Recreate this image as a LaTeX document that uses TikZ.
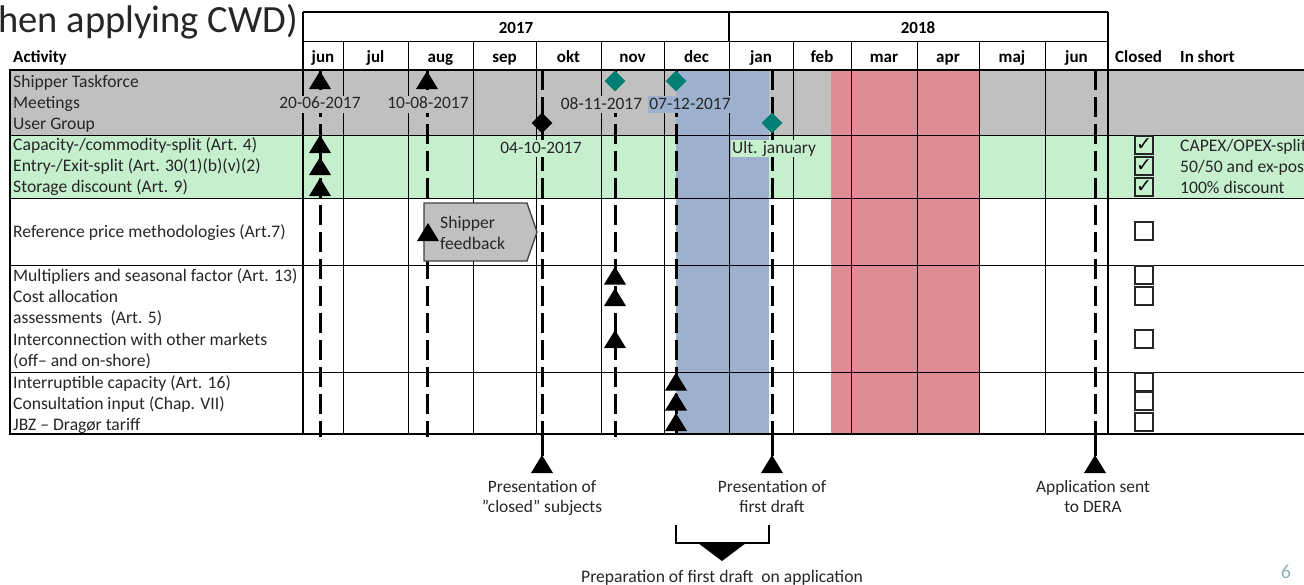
\documentclass[tikz,border=0pt]{standalone}
\usepackage{fontspec}
\setmainfont{Carlito}
\newfontfamily\dejavu{DejaVu Sans}
\usetikzlibrary{shapes.geometric}
\definecolor{rowgray}{HTML}{C0C0C0}
\definecolor{rowgreen}{HTML}{C6EFCE}
\definecolor{prepblue}{HTML}{9DB0CE}
\definecolor{holdpink}{HTML}{DE8C96}
\definecolor{tealmark}{HTML}{007F72}
\definecolor{bodytext}{HTML}{262626}
\definecolor{pagenum}{HTML}{8CB4B4}
\definecolor{boxedge}{HTML}{404040}
\begin{document}
\begin{tikzpicture}[x=1pt,y=-1pt,
  body/.style={font=\fontsize{17.6}{21}\selectfont, text=bodytext, inner sep=0pt, anchor=base west},
  hdr/.style={font=\fontsize{17}{21}\selectfont\bfseries, text=black, inner sep=0pt, anchor=base},
  datelbl/.style={font=\fontsize{17.4}{21}\selectfont, text=bodytext, inner xsep=1pt, inner ysep=1pt, text height=12pt, text depth=3pt, anchor=base},
  note/.style={font=\fontsize{17.4}{20}\selectfont, text=bodytext, inner sep=0pt, align=center, anchor=north},
  gridline/.style={line width=1pt, black},
  gridheavy/.style={line width=2pt, black},
  timeline/.style={line width=3pt, black, dash pattern=on 20pt off 7pt},
  stem/.style={line width=3pt, black},
  mstone/.style={diamond, minimum width=21pt, minimum height=21pt, inner sep=0pt, fill=black},
  tstone/.style={mstone, fill=tealmark},
  cbox/.style={draw=black!85, line width=1.4pt, minimum size=18pt, inner sep=0pt, font=\dejavu\fontsize{19}{19}\selectfont},
  uptri/.pic={\fill[black] (-11,9) -- (11,9) -- (0,-9) -- cycle;},
]
\useasboundingbox (0,0) rectangle (1304,584);
\clip (0,0) rectangle (1304,584);

% title and page number
\node[font=\fontsize{38.5}{40}\selectfont, text=bodytext, inner sep=0pt, anchor=base east] (title) at (298,32) {hen applying CWD)};
\node[font=\fontsize{20}{20}\selectfont, text=pagenum, inner sep=0pt, anchor=base] (pg) at (1286,578) {6};

% row fills and highlight bands
\fill[rowgray] (10,70) rectangle (1304,135);
\fill[rowgreen] (10,135) rectangle (1304,198);
\fill[prepblue] (676,70) rectangle (769,434);
\fill[holdpink] (831,70) rectangle (979,434);

% grid
\foreach \yy in {135,198,265,372} \draw[gridline] (10,\yy) -- (1304,\yy);
\draw[gridheavy] (10,69.5) -- (1304,69.5);
\draw[gridheavy] (10,434) -- (1304,434);
\draw[line width=1.5pt] (10,69) -- (10,435);
\draw[line width=1.5pt] (303,12) -- (1108,12);
\draw[gridline] (303,41) -- (1108,41);
\foreach \xx in {343,408,473,536,601,664,793,851,917,979,1045} \draw[gridline] (\xx,41) -- (\xx,434);
\draw[gridline] (729,41) -- (729,434);
\draw[line width=1.5pt] (729,12) -- (729,41);
\draw[line width=1.5pt] (303,12) -- (303,434);
\draw[gridheavy] (1108,12) -- (1108,434);

% headers
\node[hdr] (y2017) at (516,33) {2017};
\node[hdr] (y2018) at (918,33) {2018};
\node[hdr, anchor=base west] (hact) at (13,62.5) {Activity};
\node[hdr] (m1) at (323,62.5) {jun};
\node[hdr] (m2) at (375.5,62.5) {jul};
\node[hdr] (m3) at (440.5,62.5) {aug};
\node[hdr] (m4) at (504.5,62.5) {sep};
\node[hdr] (m5) at (568.5,62.5) {okt};
\node[hdr] (m6) at (632.5,62.5) {nov};
\node[hdr] (m7) at (696.5,62.5) {dec};
\node[hdr] (m8) at (761,62.5) {jan};
\node[hdr] (m9) at (822,62.5) {feb};
\node[hdr] (m10) at (884,62.5) {mar};
\node[hdr] (m11) at (948,62.5) {apr};
\node[hdr] (m12) at (1012,62.5) {maj};
\node[hdr] (m13) at (1076.5,62.5) {jun};
\node[hdr, anchor=base west] (hclosed) at (1115,62.5) {Closed};
\node[hdr, anchor=base west] (hshort) at (1180,62.5) {In short};

% activity texts
\node[body] (a1) at (13,87) {Shipper Taskforce};
\node[body] (a2) at (13,108) {Meetings};
\node[body] (a3) at (13,129.5) {User Group};
\node[body] (a4) at (13,150) {Capacity-/commodity-split (Art. 4)};
\node[body] (a5) at (13,171) {Entry-/Exit-split (Art. 30(1)(b)(v)(2)};
\node[body] (a6) at (13,192) {Storage discount (Art. 9)};
\node[body] (a7) at (13,237) {Reference price methodologies (Art.7)};
\node[body] (a8) at (13,281) {Multipliers and seasonal factor (Art. 13)};
\node[body] (a9) at (13,302.5) {Cost allocation};
\node[body] (a10) at (13,323.5) {assessments~ (Art. 5)};
\node[body] (a11) at (13,345.5) {Interconnection with other markets};
\node[body] (a12) at (13,366.5) {(off– and on-shore)};
\node[body] (a13) at (13,388) {Interruptible capacity (Art. 16)};
\node[body] (a14) at (13,409) {Consultation input (Chap. VII)};
\node[body] (a15) at (13,430) {JBZ – Dragør tariff};

% in short
\node[body] (s1) at (1180,151) {CAPEX/OPEX-split};
\node[body] (s2) at (1180,172) {50/50 and ex-post};
\node[body] (s3) at (1180,193) {100\% discount};

% timelines
\coordinate (tjunT) at (320,70);   \coordinate (tjunB) at (320,437);
\coordinate (taugT) at (427,70);   \coordinate (taugB) at (427,437);
\coordinate (toktT) at (542,70);   \coordinate (toktB) at (542,434);
\coordinate (tnovT) at (615,70);   \coordinate (tnovB) at (615,437);
\coordinate (tdecT) at (676,70);   \coordinate (tdecB) at (676,434);
\coordinate (tjanT) at (772,70);   \coordinate (tjanB) at (772,434);
\coordinate (tjunnT) at (1095,70); \coordinate (tjunnB) at (1095,434);
\draw[timeline] (tjunT) -- (tjunB);
\draw[timeline] (taugT) -- (taugB);
\draw[timeline] (toktT) -- (toktB);
\draw[timeline] (tnovT) -- (tnovB);
\draw[timeline] (tdecT) -- (tdecB);
\draw[timeline] (tjanT) -- (tjanB);
\draw[timeline] (tjunnT) -- (tjunnB);

% date labels
\node[datelbl, fill=rowgray] (d1) at (320,108.5) {20-06-2017};
\node[datelbl, fill=rowgray] (d2) at (428,108.5) {10-08-2017};
\node[datelbl, fill=rowgray] (d3) at (601.5,109) {08-11-2017};
\node[datelbl, fill=prepblue] (d4) at (690,109) {07-12-2017};
\node[datelbl, fill=rowgreen] (d5) at (541,153) {04-10-2017};
\node[datelbl, fill=rowgreen, anchor=base west] (d6) at (731,153) {Ult. january};

% shipper feedback
\coordinate (sf1) at (424,203); \coordinate (sf2) at (527,203); \coordinate (sf3) at (537,232);
\coordinate (sf4) at (527,261); \coordinate (sf5) at (424,261);
\filldraw[fill=rowgray, draw=boxedge, line width=1.3pt] (sf1) -- (sf2) -- (sf3) -- (sf4) -- (sf5) -- cycle;
\node[body] (sfa) at (440,228) {Shipper};
\node[body] (sfb) at (440,249) {feedback};

% triangle milestones
\foreach \px/\py in {320/80, 320/144, 320/166, 320/187, 427/80, 428/232,
                     615/275.5, 615/297, 615/339, 676/381.5, 676/401.5, 676/422}
  \pic at (\px,\py) {uptri};

% diamond milestones
\node[tstone] (dn1) at (615,81) {};
\node[tstone] (dn2) at (676,81) {};
\node[tstone] (dn3) at (772,123) {};
\node[mstone] (dn4) at (542,123) {};

% check boxes
\node[cbox] (c1) at (1144,145) {✓};
\node[cbox] (c2) at (1144,166) {✓};
\node[cbox] (c3) at (1144,187) {✓};
\foreach \cy [count=\ci] in {231,275,296,339,382,401,422}
  \node[cbox] (e\ci) at (1144,\cy) {};

% bottom milestones
\coordinate (pokt) at (542,456); \coordinate (pjan) at (772,456); \coordinate (pjun) at (1095,456);
\draw[stem] (toktB) -- (pokt);
\draw[stem] (tjanB) -- (pjan);
\draw[stem] (tjunnB) -- (pjun);
\pic at (542,464) {uptri};
\pic at (772,464) {uptri};
\pic at (1095,464) {uptri};
\node[note] (n1) at (542,480) {Presentation of\\”closed” subjects};
\node[note] (n2) at (772,480) {Presentation of\\first draft};
\node[note] (n3) at (1093,480) {Application sent\\to DERA};

% bracket
\coordinate (br1) at (676,525); \coordinate (br2) at (676,543);
\coordinate (br3) at (769,543); \coordinate (br4) at (769,525);
\draw[line width=1.5pt] (br1) -- (br2) -- (br3) -- (br4);
\fill[black] (698,543) -- (746,543) -- (722,561) -- cycle;
\node[body, anchor=base] (n4) at (722,582) {Preparation of first draft~ on application};
\end{tikzpicture}
\end{document}
